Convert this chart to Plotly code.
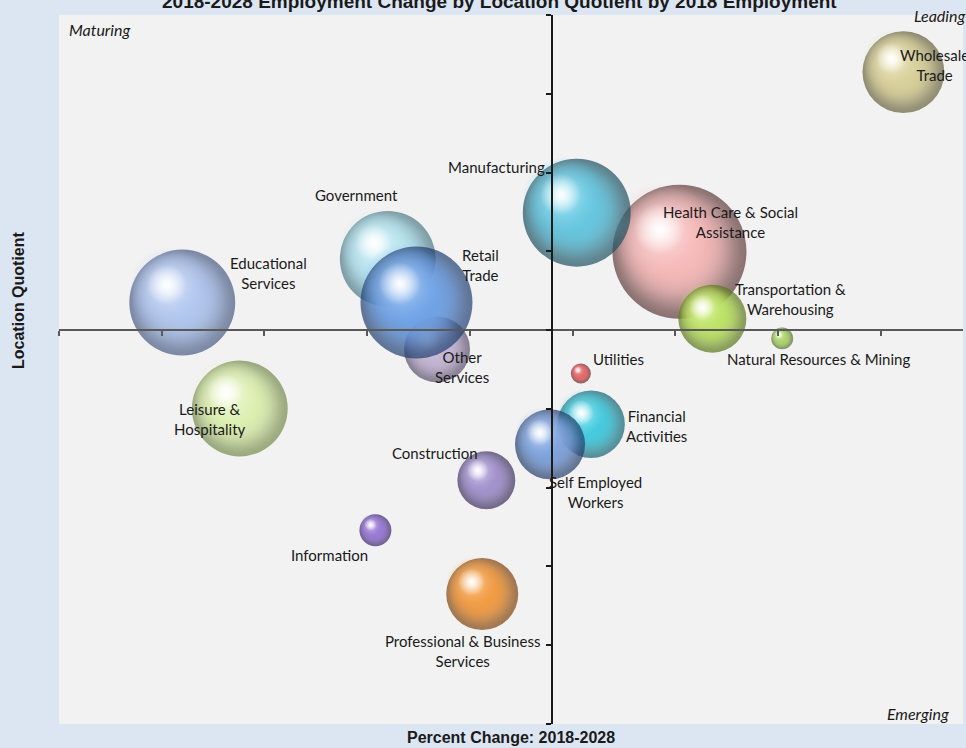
import math
import plotly.graph_objects as go

# ---------------- data ----------------
sectors = [
    "Health Care & Social Assistance", "Manufacturing", "Transportation & Warehousing",
    "Wholesale Trade", "Natural Resources & Mining", "Utilities", "Financial Activities",
    "Self Employed Workers", "Construction", "Information",
    "Professional & Business Services", "Leisure & Hospitality", "Educational Services",
    "Government", "Other Services", "Retail Trade",
]
label_text = [
    "Health Care & Social<br>Assistance", "Manufacturing", "Transportation &<br>Warehousing",
    "Wholesale<br>Trade", "Natural Resources & Mining", "Utilities", "Financial<br>Activities",
    "Self Employed<br>Workers", "Construction", "Information",
    "Professional & Business<br>Services", "Leisure &<br>Hospitality", "Educational<br>Services",
    "Government", "Other<br>Services", "Retail<br>Trade",
]
pct_change = [0.062, 0.012, 0.078, 0.171, 0.112, 0.014, 0.019, -0.001, -0.032, -0.086,
              -0.034, -0.152, -0.180, -0.080, -0.056, -0.066]
location_quotient = [1.199, 1.298, 1.029, 1.655, 0.979, 0.890, 0.761, 0.710, 0.619, 0.492,
                     0.330, 0.801, 1.070, 1.181, 0.951, 1.070]
employment_2018 = [45000, 29200, 11600, 16800, 1200, 1000, 11400, 12300, 8400, 2560,
                   13000, 23000, 28100, 23000, 10900, 31400]

x_range = [-0.24, 0.20]
x_tick0, x_dtick = -0.24, 0.05
y_range = [0.0, 1.8]
y_tick0, y_dtick = 0.0, 0.2
x_cross, y_cross = 0.0, 1.0

# ---------------- styles ----------------
W, H = 966, 748
MARGIN = dict(l=59, r=3, t=15, b=24)
PLOT_W = W - MARGIN["l"] - MARGIN["r"]
PLOT_H = H - MARGIN["t"] - MARGIN["b"]
MAX_D = 134  # diameter in px of the largest bubble

palette = {  # (mid colour, dark rim colour, light colour)
    "Health Care & Social Assistance": ("#f6b8b8", "#5e3a3a", "#fff2f2"),
    "Manufacturing": ("#64c6e0", "#1c4e5e", "#d4faff"),
    "Transportation & Warehousing": ("#bce264", "#587418", "#f8ffd8"),
    "Wholesale Trade": ("#d8d09a", "#66603a", "#fbf8e0"),
    "Natural Resources & Mining": ("#aed46e", "#506e24", "#f2ffd8"),
    "Utilities": ("#e66868", "#701a1a", "#ffd6d6"),
    "Financial Activities": ("#42cade", "#106270", "#d2fbff"),
    "Self Employed Workers": ("#7ea2dc", "#223a66", "#e2eeff"),
    "Construction": ("#a292cc", "#3a2e5c", "#efe8ff"),
    "Information": ("#9878d4", "#3a226c", "#ece0ff"),
    "Professional & Business Services": ("#f29a40", "#7c400a", "#ffe2c0"),
    "Leisure & Hospitality": ("#def0b2", "#74884c", "#fcfff2"),
    "Educational Services": ("#b0c6ee", "#485a82", "#f2f6ff"),
    "Government": ("#b6e4f0", "#4c7886", "#f6ffff"),
    "Other Services": ("#c4b6d4", "#584c6a", "#f6f0ff"),
    "Retail Trade": ("#6ea2e6", "#1e3c6e", "#d6e8ff"),
}
label_offset = {  # (dx, dy) in px from bubble centre, dy positive = down
    "Health Care & Social Assistance": (51, -30),
    "Manufacturing": (-80, -46),
    "Transportation & Warehousing": (78, -20),
    "Wholesale Trade": (31, -7),
    "Natural Resources & Mining": (36, 21),
    "Utilities": (38, -14),
    "Financial Activities": (65, 2),
    "Self Employed Workers": (45, 48),
    "Construction": (-51, -27),
    "Information": (-46, 25),
    "Professional & Business Services": (-20, 57),
    "Leisure & Hospitality": (-30, 10),
    "Educational Services": (86, -30),
    "Government": (-31, -64),
    "Other Services": (25, 18),
    "Retail Trade": (64, -38),
}

def hex_rgba(h, a):
    h = h.lstrip("#")
    return f"rgba({int(h[0:2],16)},{int(h[2:4],16)},{int(h[4:6],16)},{a})"

max_emp = max(employment_2018)
sizeref = 2.0 * max_emp / MAX_D ** 2
px_x = (x_range[1] - x_range[0]) / PLOT_W
px_y = (y_range[1] - y_range[0]) / PLOT_H

LABEL_FONT = dict(family="Lato, Carlito, Calibri, sans-serif", size=15, color="#1a1a1a")

def overlay(xv, yv, r, ox, oy, dscale, center, edge):
    return go.Scatter(
        x=[xv + ox * r * px_x], y=[yv - oy * r * px_y], mode="markers",
        marker=dict(size=dscale * 2 * r, color=edge,
                    gradient=dict(type="radial", color=center), line=dict(width=0)),
        hoverinfo="skip", showlegend=False,
    )

fig = go.Figure()
annotations = []
for name, lab, xv, yv, emp in zip(sectors, label_text, pct_change, location_quotient, employment_2018):
    mid, dark, light = palette[name]
    r = (MAX_D / 2.0) * math.sqrt(emp / max_emp)
    # sphere body: mid colour at centre, dark rim
    fig.add_trace(go.Scatter(
        x=[xv], y=[yv], mode="markers", name=name,
        marker=dict(size=[emp], sizemode="area", sizeref=sizeref,
                    color=dark, gradient=dict(type="radial", color=mid),
                    line=dict(width=0)),
        hovertemplate=f"{name}<br>%{{x:.1%}}<br>LQ %{{y:.2f}}<extra></extra>",
        showlegend=False,
    ))
    # broaden the mid tone toward the upper-left (three passes)
    fig.add_trace(overlay(xv, yv, r, -0.04, -0.04, 0.95, hex_rgba(mid, 1.0), hex_rgba(mid, 0.0)))
    fig.add_trace(overlay(xv, yv, r, -0.08, -0.08, 0.9, hex_rgba(mid, 1.0), hex_rgba(mid, 0.0)))
    fig.add_trace(overlay(xv, yv, r, -0.12, -0.12, 0.82, hex_rgba(mid, 1.0), hex_rgba(mid, 0.0)))
    # soft light zone
    fig.add_trace(overlay(xv, yv, r, -0.26, -0.3, 0.75, hex_rgba(light, 0.85), hex_rgba(mid, 0.0)))
    # specular highlight
    fig.add_trace(overlay(xv, yv, r, -0.3, -0.34, 0.38, "rgba(255,255,255,1)", "rgba(255,255,255,0)"))
    dx, dy = label_offset[name]
    annotations.append(dict(x=xv, y=yv, xref="x", yref="y", text=lab, showarrow=False,
                            xshift=dx, yshift=-dy, align="center", font=LABEL_FONT))

QFONT = dict(family="Lato, Carlito, Calibri, sans-serif", size=16, color="#1a1a1a", style="italic")
annotations += [
    dict(text="Maturing", xref="paper", yref="paper", x=8 / PLOT_W, y=(PLOT_H - 15) / PLOT_H,
         xanchor="left", yanchor="middle", showarrow=False, font=QFONT),
    dict(text="Leading", xref="paper", yref="paper", x=(912 - MARGIN["l"]) / PLOT_W, y=1.0,
         xanchor="left", yanchor="middle", showarrow=False, font=QFONT),
    dict(text="Emerging", xref="paper", yref="paper", x=(951 - MARGIN["l"]) / PLOT_W, y=11 / PLOT_H,
         xanchor="right", yanchor="middle", showarrow=False, font=QFONT),
    dict(text="<b>Percent Change: 2018-2028</b>", xref="paper", yref="paper", x=0.5, y=0,
         yanchor="top", yshift=-3, showarrow=False,
         font=dict(family="Liberation Sans, Arial, sans-serif", size=16, color="#1a1a1a")),
    dict(text="<b>Location Quotient</b>", xref="paper", yref="paper", x=0, xshift=-41,
         y=(PLOT_H - (300 - MARGIN["t"])) / PLOT_H, textangle=-90, showarrow=False,
         xanchor="center", yanchor="middle",
         font=dict(family="Liberation Sans, Arial, sans-serif", size=16, color="#1a1a1a")),
    dict(text="<b>2018-2028 Employment Change by Location Quotient by 2018 Employment</b>",
         xref="paper", yref="paper", x=(499 - MARGIN["l"]) / PLOT_W, y=1, yanchor="bottom",
         yshift=1, showarrow=False,
         font=dict(family="Liberation Sans, Arial, sans-serif", size=19, color="#1a1a1a")),
]

fig.update_layout(
    width=W, height=H, margin=MARGIN,
    paper_bgcolor="#dce6f2", plot_bgcolor="#f2f2f2",
    annotations=annotations, showlegend=False,
    xaxis=dict(range=x_range, tick0=x_tick0, dtick=x_dtick, showticklabels=False,
               showgrid=False, zeroline=False, showline=True, linecolor="#595959", linewidth=1.5,
               ticks="outside", ticklen=5, tickcolor="#595959", tickwidth=1.5,
               anchor="free", position=(y_cross - y_range[0]) / (y_range[1] - y_range[0])),
    yaxis=dict(range=y_range, tick0=y_tick0, dtick=y_dtick, showticklabels=False,
               showgrid=False, zeroline=False, showline=True, linecolor="#1a1a1a", linewidth=1.5,
               ticks="outside", ticklen=5, tickcolor="#1a1a1a", tickwidth=1.5,
               anchor="free", position=(x_cross - x_range[0]) / (x_range[1] - x_range[0])),
)

fig.write_html("out.html", config={"displayModeBar": False},
               post_script="document.body.style.margin='0';document.body.style.overflow='hidden';")
